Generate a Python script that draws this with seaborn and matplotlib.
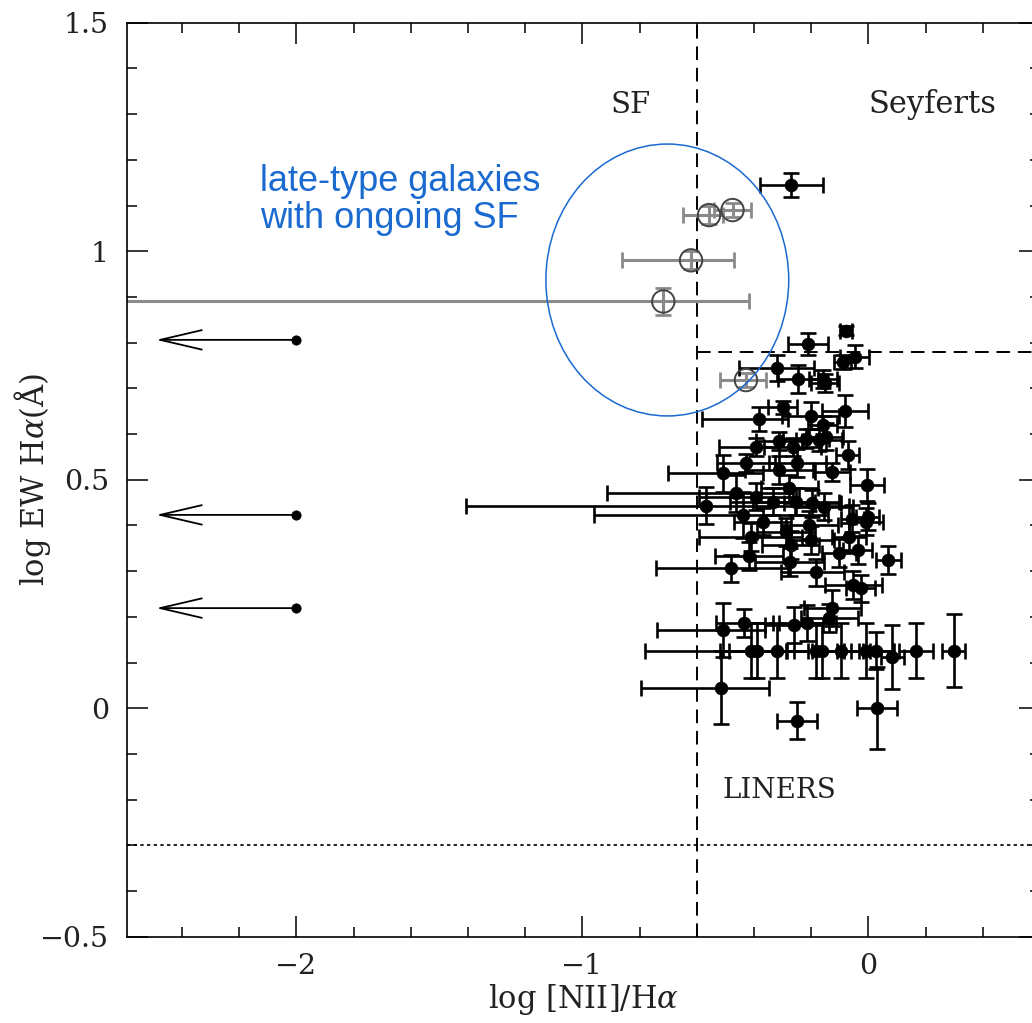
import numpy as np
import pandas as pd
import matplotlib
matplotlib.use("Agg")
import matplotlib.pyplot as plt
from matplotlib.patches import Ellipse
from matplotlib.ticker import MultipleLocator, FixedLocator, FuncFormatter
import seaborn as sns

# ---------------- data ----------------
# filled points: log [NII]/Halpha, log EW Halpha, x-error low/high, y-error
nii = [-0.270, -0.212, -0.079, -0.048, -0.090, -0.321, -0.246, -0.158, -0.151, -0.300,
       -0.382, -0.201, -0.082, -0.160, -0.312, -0.393, -0.265, -0.172, -0.149, -0.219,
       -0.073, -0.510, -0.428, -0.312, -0.249, -0.126, -0.005, -0.463, -0.393, -0.568,
       -0.440, -0.277, -0.254, -0.196, -0.155, -0.335, -0.003, -0.056, -0.370, -0.411,
       -0.288, -0.207, -0.201, -0.067, -0.009, -0.271, -0.417, -0.102, -0.038, -0.481,
       -0.275, -0.184, 0.070, -0.053, -0.027, -0.126, -0.137, -0.510, -0.434, -0.260,
       -0.213, -0.411, -0.388, -0.318, -0.184, -0.161, -0.096, -0.009, 0.026, 0.166,
       0.299, 0.084, -0.516, -0.248, 0.031]
ew = [1.145, 0.797, 0.826, 0.769, 0.758, 0.744, 0.720, 0.720, 0.711, 0.658,
      0.633, 0.640, 0.651, 0.620, 0.585, 0.572, 0.572, 0.587, 0.594, 0.590,
      0.554, 0.514, 0.536, 0.521, 0.537, 0.517, 0.488, 0.470, 0.463, 0.443,
      0.422, 0.481, 0.452, 0.448, 0.441, 0.452, 0.419, 0.415, 0.408, 0.375,
      0.386, 0.401, 0.368, 0.375, 0.408, 0.357, 0.333, 0.340, 0.346, 0.306,
      0.320, 0.297, 0.324, 0.270, 0.262, 0.219, 0.197, 0.171, 0.186, 0.182,
      0.186, 0.126, 0.126, 0.126, 0.126, 0.126, 0.126, 0.126, 0.126, 0.126,
      0.126, 0.111, 0.045, -0.027, 0.000]
nii_err_lo = [0.11, 0.07, 0.02, 0.05, 0.03, 0.13, 0.07, 0.05, 0.05, 0.05,
              0.20, 0.10, 0.08, 0.05, 0.08, 0.13, 0.10, 0.08, 0.06, 0.08,
              0.04, 0.19, 0.10, 0.12, 0.10, 0.06, 0.06, 0.45, 0.20, 0.84,
              0.52, 0.10, 0.15, 0.10, 0.10, 0.15, 0.04, 0.04, 0.10, 0.18,
              0.10, 0.10, 0.08, 0.06, 0.06, 0.10, 0.12, 0.06, 0.05, 0.26,
              0.12, 0.12, 0.045, 0.10, 0.05, 0.10, 0.10, 0.23, 0.10, 0.10,
              0.10, 0.37, 0.10, 0.20, 0.10, 0.10, 0.10, 0.10, 0.06, 0.06,
              0.04, 0.04, 0.28, 0.07, 0.07]
nii_err_hi = [0.11, 0.07, 0.02, 0.05, 0.03, 0.13, 0.07, 0.05, 0.05, 0.05,
              0.10, 0.10, 0.08, 0.05, 0.08, 0.08, 0.10, 0.08, 0.06, 0.08,
              0.04, 0.14, 0.10, 0.12, 0.10, 0.06, 0.06, 0.20, 0.15, 0.50,
              0.30, 0.10, 0.15, 0.10, 0.10, 0.15, 0.04, 0.04, 0.10, 0.18,
              0.10, 0.10, 0.08, 0.06, 0.06, 0.10, 0.12, 0.06, 0.05, 0.20,
              0.12, 0.10, 0.045, 0.10, 0.05, 0.10, 0.10, 0.15, 0.10, 0.10,
              0.10, 0.20, 0.10, 0.30, 0.10, 0.10, 0.10, 0.10, 0.06, 0.06,
              0.04, 0.04, 0.17, 0.07, 0.07]
ew_err = [0.027, 0.025, 0.010, 0.025, 0.015, 0.028, 0.030, 0.020, 0.020, 0.015,
          0.027, 0.030, 0.035, 0.020, 0.020, 0.020, 0.020, 0.025, 0.030, 0.020,
          0.030, 0.040, 0.020, 0.030, 0.030, 0.020, 0.035, 0.040, 0.030, 0.040,
          0.050, 0.030, 0.030, 0.030, 0.030, 0.030, 0.030, 0.030, 0.030, 0.030,
          0.030, 0.030, 0.030, 0.030, 0.030, 0.030, 0.030, 0.030, 0.030, 0.030,
          0.030, 0.030, 0.030, 0.030, 0.030, 0.040, 0.030, 0.060, 0.030, 0.040,
          0.040, 0.060, 0.060, 0.060, 0.060, 0.060, 0.060, 0.060, 0.040, 0.060,
          0.080, 0.070, 0.080, 0.040, 0.090]

# late-type galaxies (open circles)
late_nii = [-0.557, -0.475, -0.620, -0.717, -0.428]
late_ew = [1.079, 1.090, 0.980, 0.890, 0.718]
late_nii_err_lo = [0.09, 0.065, 0.24, 1.90, 0.09]
late_nii_err_hi = [0.05, 0.065, 0.15, 0.30, 0.07]
late_ew_err = [0.020, 0.015, 0.020, 0.030, 0.015]

# upper limits in [NII]/Halpha
lim_nii = [-2.0, -2.0, -2.0]
lim_ew = [0.806, 0.423, 0.219]
lim_arrow_len = 0.49

# demarcation lines
sf_agn_x = -0.6
seyfert_liner_y = 0.78
weak_y = -0.3

# ---------------- plotting ----------------
sns.set_style("ticks")
plt.rcParams["font.family"] = ["DejaVu Serif", "DejaVu Sans"]
plt.rcParams["mathtext.fontset"] = "dejavuserif"

fig = plt.figure(figsize=(10.32, 10.23), dpi=100)
ax = fig.add_axes([127 / 1032, (1023 - 936.7) / 1023,
                   (1040 - 127) / 1032, (936.7 - 22.7) / 1023])

df = pd.DataFrame({"nii": nii, "ew": ew})
late = pd.DataFrame({"nii": late_nii, "ew": late_ew})
lim = pd.DataFrame({"nii": lim_nii, "ew": lim_ew})

# error bars
ax.errorbar(late_nii, late_ew, xerr=[late_nii_err_lo, late_nii_err_hi], yerr=late_ew_err,
            fmt="none", ecolor="#8a8a8a", elinewidth=2.2, capsize=6, capthick=2.0, zorder=2)
ax.errorbar(nii, ew, xerr=[nii_err_lo, nii_err_hi], yerr=ew_err,
            fmt="none", ecolor="black", elinewidth=1.9, capsize=6, capthick=1.9, zorder=3)

sns.scatterplot(data=df, x="nii", y="ew", ax=ax, s=85, color="black",
                edgecolor="black", linewidth=0.5, zorder=4, legend=False)
sns.scatterplot(data=late, x="nii", y="ew", ax=ax, s=260, marker="o",
                facecolors="none", edgecolor="#444444", linewidth=1.4, zorder=4, legend=False)
sns.scatterplot(data=lim, x="nii", y="ew", ax=ax, s=45, color="black",
                edgecolor="black", zorder=4, legend=False)

for xv, yv in zip(lim_nii, lim_ew):
    ax.annotate("", xy=(xv - lim_arrow_len, yv), xytext=(xv, yv),
                arrowprops=dict(arrowstyle="->,head_length=3.0,head_width=0.7",
                                mutation_scale=10, color="black", lw=1.3,
                                shrinkA=0, shrinkB=0))

# demarcation lines
ax.axvline(sf_agn_x, color="black", lw=1.4, ls=(0, (7, 4)), zorder=1)
ax.plot([sf_agn_x, 0.6], [seyfert_liner_y, seyfert_liner_y], color="black", lw=1.4,
        ls=(0, (7, 4)), zorder=1)
ax.axhline(weak_y, color="black", lw=1.2, ls=(0, (2, 2)), zorder=1)

# region labels
ax.text(-0.83, 1.32, "SF", fontsize=21, ha="center", va="center", color="#222222")
ax.text(0.225, 1.32, "Seyferts", fontsize=22, ha="center", va="center", color="#222222")
ax.text(-0.31, -0.179, "LINERS", fontsize=20, ha="center", va="center", color="#222222")

# blue annotation
ax.add_patch(Ellipse((-0.703, 0.937), 0.849, 0.595, fill=False, edgecolor="#1a6ad0",
                     lw=1.1, zorder=5))
ax.text(-2.128, 1.112, "late-type galaxies\nwith ongoing SF", fontsize=26, color="#1a6ad0",
        family=["Liberation Sans", "DejaVu Sans"], ha="left", va="center", linespacing=1.05)

# axes
ax.set_xlim(-2.592, 0.6)
ax.set_ylim(-0.5, 1.5)
ax.xaxis.set_major_locator(FixedLocator([-2, -1, 0]))
ax.xaxis.set_minor_locator(MultipleLocator(0.2))
ax.yaxis.set_major_locator(MultipleLocator(0.5))
ax.yaxis.set_minor_locator(MultipleLocator(0.1))
fmt = FuncFormatter(lambda v, p: ("%g" % v).replace("-", "\u2212"))
ax.xaxis.set_major_formatter(fmt)
ax.yaxis.set_major_formatter(fmt)

ax.tick_params(which="both", direction="in", top=True, right=True, width=1.1,
               colors="black", labelcolor="#222222", labelsize=20.5)
ax.tick_params(which="major", length=15)
ax.tick_params(which="minor", length=7.5)
ax.tick_params(axis="y", pad=13)
ax.tick_params(axis="x", pad=12)
for sp in ax.spines.values():
    sp.set_linewidth(1.2)
    sp.set_color("black")

ax.set_xlabel(r"log [NII]/H$\alpha$", fontsize=22, color="#222222")
ax.set_ylabel(r"log EW H$\alpha$(Å)", fontsize=22, color="#222222")
ax.xaxis.set_label_coords(0.5, -0.05)
ax.yaxis.set_label_coords(-0.081, 0.5)

fig.savefig("out.png", dpi=100)
